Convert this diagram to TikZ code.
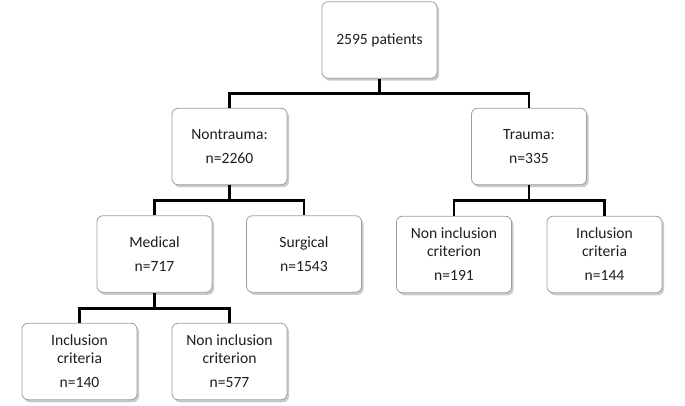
\documentclass[tikz,border=0pt]{standalone}
\usepackage{fontspec}
\setmainfont{Carlito}
\usetikzlibrary{shadows}
\begin{document}
\begin{tikzpicture}[x=1pt,y=-1pt,
  box/.style={draw=black!38, line width=0.8pt, fill=white, rounded corners=6pt,
    minimum width=115pt, minimum height=76.5pt, align=center, inner sep=2pt,
    text=black!88, font=\fontsize{15.6pt}{18pt}\selectfont,
    drop shadow={shadow xshift=2pt, shadow yshift=-2.5pt, opacity=0.35, fill=black!60}},
  link/.style={line width=2.8pt, black}]
\useasboundingbox (0,0) rectangle (685,406);
\node[box] (root) at (379.5,40) {2595 patients};
\node[box] (nt) at (229.5,146.5) {Nontrauma:\\[6pt]n=2260};
\node[box] (tr) at (529,146.5) {Trauma:\\[6pt]n=335};
\node[box] (med) at (154.5,254) {Medical\\[6pt]n=717};
\node[box] (sur) at (304,254) {Surgical\\[6pt]n=1543};
\node[box] (tni) at (454,254.5) {Non inclusion\\criterion\\[6pt]n=191};
\node[box] (tin) at (604.5,254.5) {Inclusion\\criteria\\[6pt]n=144};
\node[box] (min) at (79.5,361.5) {Inclusion\\criteria\\[6pt]n=140};
\node[box] (mni) at (229.5,361.5) {Non inclusion\\criterion\\[6pt]n=577};
\draw[link] (root.south) -- ++(0,15) coordinate (j1);
\draw[link] (nt.north) |- (j1) -| (tr.north);
\draw[link] (nt.south) -- ++(0,15.5) coordinate (j2);
\draw[link] (med.north) |- (j2) -| (sur.north);
\draw[link] (tr.south) -- ++(0,15.5) coordinate (j3);
\draw[link] (tni.north) |- (j3) -| (tin.north);
\draw[link] (med.south) -- ++(0,16) coordinate (j4);
\draw[link] (min.north) |- (j4) -| (mni.north);
\end{tikzpicture}
\end{document}
